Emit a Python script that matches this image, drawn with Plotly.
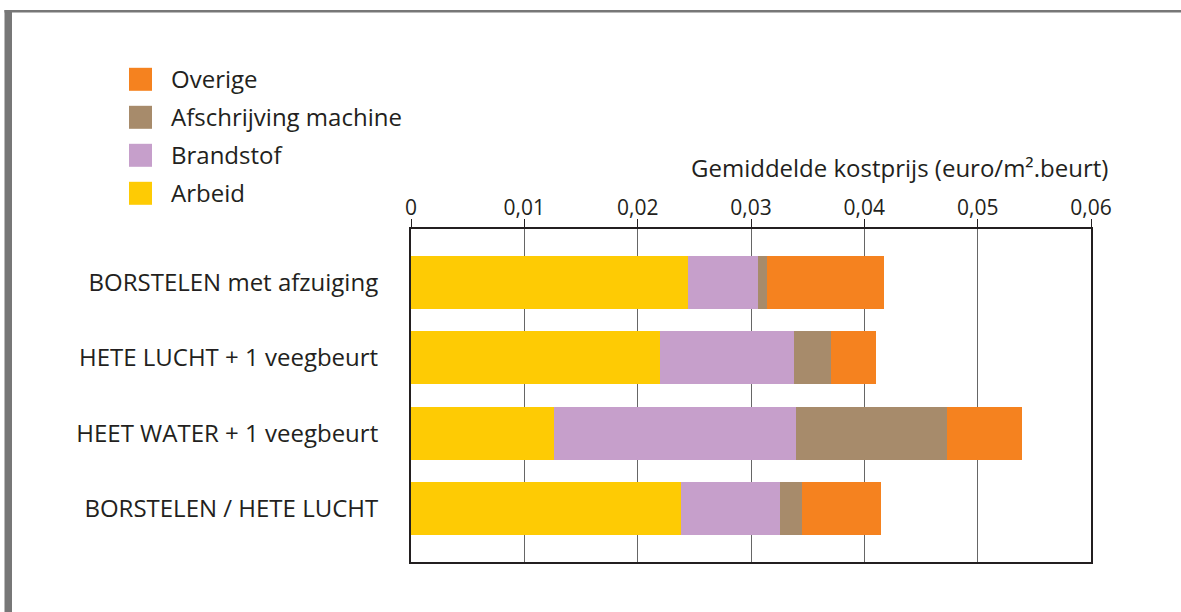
import plotly.graph_objects as go

# Cost breakdown per cleaning method (euro per m² per treatment)
methods = [
    "BORSTELEN met afzuiging",
    "HETE LUCHT + 1 veegbeurt",
    "HEET WATER + 1 veegbeurt",
    "BORSTELEN / HETE LUCHT",
]
arbeid = [0.0244, 0.0220, 0.0126, 0.0238]
brandstof = [0.0062, 0.0118, 0.0214, 0.0088]
afschrijving = [0.0008, 0.0033, 0.0133, 0.0019]
overige = [0.0103, 0.0039, 0.0066, 0.0070]

tick_vals = [0, 0.01, 0.02, 0.03, 0.04, 0.05, 0.06]
tick_text = ["0", "0,01", "0,02", "0,03", "0,04", "0,05", "0,06"]

series = [
    ("Arbeid", arbeid, "#FECB04"),
    ("Brandstof", brandstof, "#C69FCB"),
    ("Afschrijving machine", afschrijving, "#A78B6B"),
    ("Overige", overige, "#F5821F"),
]

W, H = 1181, 612
ML, MR, MT, MB = 411, 90, 229, 50
PW, PH = W - ML - MR, H - MT - MB
FONT = "Open Sans"
INK = "#231f20"
FRAME = "#777777"
TEXT_SIZE = 24
TICK_SIZE = 21


def px(x):
    return (x - ML) / PW


def py(y):
    return 1 - (y - MT) / PH


fig = go.Figure()
for name, vals, color in series:
    fig.add_trace(go.Bar(
        name=name, y=methods, x=vals, orientation="h",
        marker=dict(color=color, line=dict(width=0)),
        width=0.7, showlegend=False,
    ))

shapes = [
    # page frame: thick left edge and thin top edge
    dict(type="rect", xref="paper", yref="paper",
         x0=px(4.5), x1=px(12), y0=py(H + 5), y1=py(10),
         fillcolor=FRAME, line=dict(width=0), layer="above"),
    dict(type="rect", xref="paper", yref="paper",
         x0=px(4.5), x1=px(W + 5), y0=py(12.5), y1=py(10),
         fillcolor=FRAME, line=dict(width=0), layer="above"),
]
annotations = []

# legend, top entry first
legend_items = list(reversed(series))
for i, (name, vals, color) in enumerate(legend_items):
    cy = 79.3 + i * 38
    shapes.append(dict(type="rect", xref="paper", yref="paper",
                       x0=px(129), x1=px(152), y0=py(cy + 11.5), y1=py(cy - 11.5),
                       fillcolor=color, line=dict(width=0)))
    annotations.append(dict(xref="paper", yref="paper", x=px(169), y=py(cy - 1),
                            text=name, showarrow=False, xanchor="left", yanchor="middle",
                            font=dict(family=FONT, size=TEXT_SIZE, color=INK)))

annotations.append(dict(xref="paper", yref="paper", x=px(1110), y=py(167),
                        text="Gemiddelde kostprijs (euro/m².beurt)", showarrow=False,
                        xanchor="right", yanchor="middle",
                        font=dict(family=FONT, size=TEXT_SIZE, color=INK)))

fig.update_layout(
    width=W, height=H,
    margin=dict(l=ML, r=MR, t=MT, b=MB, pad=0),
    barmode="stack", bargap=0.3,
    plot_bgcolor="white", paper_bgcolor="white",
    shapes=shapes, annotations=annotations,
    font=dict(family=FONT, size=TEXT_SIZE, color=INK),
)
fig.update_xaxes(
    side="top", range=[0, 0.06], tickvals=tick_vals, ticktext=tick_text,
    ticks="outside", ticklen=8, tickwidth=1, tickcolor=INK,
    showgrid=True, gridcolor="#666666", gridwidth=1,
    showline=True, linecolor=INK, linewidth=2, mirror=True,
    zeroline=False, ticklabelstandoff=-4,
    tickfont=dict(family=FONT, size=TICK_SIZE, color=INK),
)
fig.update_yaxes(
    type="category", categoryorder="array", categoryarray=methods,
    range=[3.705, -0.705], ticks="", showgrid=False,
    showline=True, linecolor=INK, linewidth=2, mirror=True,
    ticklabelstandoff=26,
    tickfont=dict(family=FONT, size=TEXT_SIZE, color=INK),
)

fig.write_html("out.html")
